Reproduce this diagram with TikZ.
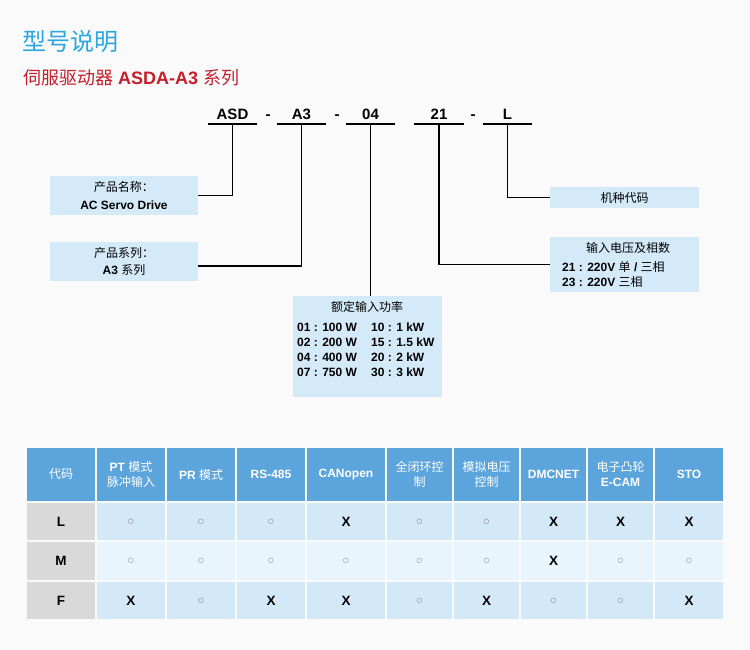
\documentclass[tikz,border=0pt]{standalone}
\usepackage{fontspec}
\setmainfont{Liberation Sans}
\newfontfamily\cjk{Noto Sans CJK SC}
\newfontfamily\symfont{DejaVu Sans}
\usetikzlibrary{positioning}

\definecolor{titleblue}{HTML}{2AA7DE}
\definecolor{titlered}{HTML}{C41E2B}
\definecolor{boxblue}{HTML}{D5EAF8}
\definecolor{headblue}{HTML}{5CA4DC}
\definecolor{rowblue}{HTML}{D3E9F8}
\definecolor{rowpale}{HTML}{E9F5FC}
\definecolor{codegray}{HTML}{D9D9D9}
\definecolor{bgcol}{HTML}{FAFAFA}

\newcommand\zh[1]{{\cjk\mdseries #1}}
\newcommand\yes{{\symfont\mdseries\fontsize{6.5}{7}\selectfont\textcolor{black!60}{○}}}

\begin{document}
\begin{tikzpicture}[x=1pt, y=-1pt,
	codepart/.style={font=\bfseries\fontsize{15}{15}\selectfont, inner sep=0pt,
		text height=11pt, text depth=4pt, anchor=south},
	codeline/.style={line width=1.2pt},
	link/.style={line width=1.2pt},
	infobox/.style={fill=boxblue, inner sep=0pt, font=\bfseries\fontsize{12}{17.5}\selectfont, align=center},
	boxtext/.style={inner sep=0pt, font=\bfseries\fontsize{12}{15}\selectfont},
	headcell/.style={fill=headblue, text=white, inner sep=0pt, minimum height=53pt,
		align=center, font=\bfseries\fontsize{12}{15}\selectfont},
	cell/.style={inner sep=0pt, font=\bfseries\fontsize{13.5}{14}\selectfont}]

	\fill[bgcol] (0,0) rectangle (750,650);
	\useasboundingbox (0,0) rectangle (750,650);

	% titles
	\node[anchor=west, inner sep=0pt, text=titleblue, font=\fontsize{24}{24}\selectfont]
		(title) at (22,41) {\zh{型号说明}};
	\node[anchor=west, inner sep=0pt, text=titlered, font=\fontsize{18}{18}\selectfont]
		(subtitle) at (23,78) {\zh{伺服驱动器} \textbf{ASDA-A3} \zh{系列}};

	% model code
	\foreach \n/\x/\t in {asd/232.5/ASD, a3/301.5/A3, c04/370.5/04, c21/439/21, l/507.5/L}
		\node[codepart, minimum width=49pt] (\n) at (\x,124) {\t};
	\foreach \n/\x in {d1/268, d2/337, d3/473}
		\node[codepart] (\n) at (\x,124) {-};
	\foreach \n in {asd, a3, c04, c21, l}
		\draw[codeline] (\n.south west) -- (\n.south east);

	% description boxes
	\node[infobox, minimum width=148pt, minimum height=39pt] (name) at (124,195.5)
		{\zh{产品名称：}\\AC Servo Drive};
	\node[infobox, minimum width=148pt, minimum height=39pt] (series) at (124,261.5)
		{\zh{产品系列：}\\A3 \zh{系列}};
	\node[infobox, minimum width=149pt, minimum height=101pt, anchor=north west] (rated) at (293,296) {};
	\node[boxtext] (rated-t) at (367,307) {\zh{额定输入功率}};
	\node[boxtext, anchor=west, align=left] (rated-a) at (297,349.5)
		{01 : 100 W\\02 : 200 W\\04 : 400 W\\07 : 750 W};
	\node[boxtext, anchor=west, align=left] (rated-b) at (371,349.5)
		{10 : 1 kW\\15 : 1.5 kW\\20 : 2 kW\\30 : 3 kW};
	\node[infobox, minimum width=149pt, minimum height=21pt] (kind) at (624.5,197.5) {\zh{机种代码}};
	\node[infobox, minimum width=149pt, minimum height=55pt] (volt) at (624.5,264.5) {};
	\node[boxtext] (volt-t) at (628,248) {\zh{输入电压及相数}};
	\node[boxtext, anchor=west, align=left] (volt-v) at (562,274.5)
		{21 : 220V \zh{单} / \zh{三相}\\23 : 220V \zh{三相}};

	% connectors
	\draw[link] (asd.south) |- (name.east);
	\draw[link] (a3.south) |- ([yshift=-4.5pt]series.east);
	\draw[link] (c04.south) -- (c04.south |- rated.north);
	\draw[link] (c21.south) |- (volt.west);
	\draw[link] (l.south) |- (kind.west);

	% table
	\node[headcell, minimum width=68pt] (h0) at (61,474.5) {\zh{代码}};
	\node[cell, fill=codegray, minimum width=68pt, minimum height=37pt] (l0) at (61,521.5) {L};
	\node[cell, fill=codegray, minimum width=68pt, minimum height=38pt] (m0) at (61,561) {M};
	\node[cell, fill=codegray, minimum width=68pt, minimum height=37pt] (f0) at (61,600.5) {F};
	\foreach \x/\w/\t/\vl/\vm/\vf [count=\c] in {
		97/68/{PT \zh{模式}\\\zh{脉冲输入}}/\yes/\yes/X,
		167/68/{PR \zh{模式}}/\yes/\yes/\yes,
		237/68/{RS-485}/\yes/\yes/X,
		307/78/{CANopen}/X/\yes/X,
		387/65/{\zh{全闭环控}\\\zh{制}}/\yes/\yes/\yes,
		454/65/{\zh{模拟电压}\\\zh{控制}}/\yes/\yes/X,
		521/65/{DMCNET}/X/X/\yes,
		588/65/{\zh{电子凸轮}\\E-CAM}/X/\yes/\yes,
		655/68/{STO}/X/\yes/X}
	{
		\node[headcell, minimum width=\w pt] (h\c) at (\x+\w/2,474.5) {\t};
		\node[cell, fill=rowblue, minimum width=\w pt, minimum height=37pt] (l\c) at (\x+\w/2,521.5) {\vl};
		\node[cell, fill=rowpale, minimum width=\w pt, minimum height=38pt] (m\c) at (\x+\w/2,561) {\vm};
		\node[cell, fill=rowblue, minimum width=\w pt, minimum height=37pt] (f\c) at (\x+\w/2,600.5) {\vf};
	}
\end{tikzpicture}
\end{document}
